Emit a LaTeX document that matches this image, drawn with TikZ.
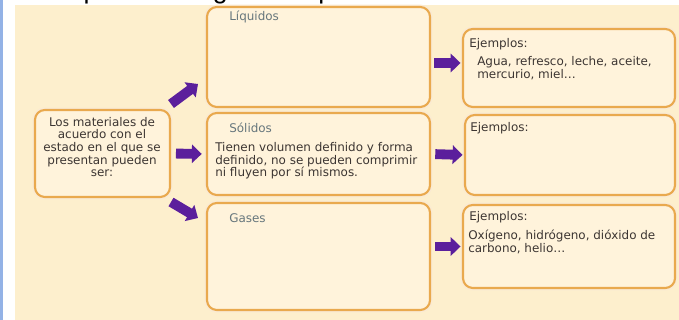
\documentclass[tikz,border=0pt]{standalone}
\usepackage{fontspec}
\setmainfont{DejaVu Sans}
\newfontfamily\encabezado{Liberation Sans}
\usetikzlibrary{arrows.meta, fit, calc}
\definecolor{fondocrema}{HTML}{FDEFCD}
\definecolor{rellenocaja}{HTML}{FFF3DB}
\definecolor{bordecaja}{HTML}{E9A94E}
\definecolor{morado}{HTML}{5B1F9C}
\definecolor{textocaja}{HTML}{3C3532}
\definecolor{grisazul}{HTML}{66767C}
\definecolor{barraazul}{HTML}{93B2E6}

\tikzset{
  caja/.style={draw=bordecaja, line width=1.5pt, fill=rellenocaja, rounded corners=7pt,
    inner sep=0pt, preaction={draw=bordecaja!25, line width=3.5pt}},
  flecha/.style={draw=morado, line width=7pt, -{Triangle[width=13pt, length=7pt]}},
  txt/.style={font=\fontsize{8.5}{9}\selectfont, text=textocaja, inner sep=0pt, align=left},
  titulo/.style={txt, text=grisazul},
}

\begin{document}
\begin{tikzpicture}[x=0.025cm, y=-0.025cm]
  \useasboundingbox (0,0) rectangle (679,320);
  % Fondo
  \fill[white] (0,0) rectangle (679,320);
  \fill[barraazul] (0,0) rectangle (3,320);
  \fill[fondocrema] (15,5) rectangle (679,320);
  % Texto cortado arriba
  \begin{scope}
    \clip (15,0) rectangle (679,5);
    \node[anchor=base west, inner sep=0pt, font=\encabezado\fontsize{19}{19}\selectfont]
      (instr) at (27,-1) {Completa el diagrama a partir de lo};
  \end{scope}

  % Cajas
  \node[caja, fit={(35,110) (170,197)}] (mat) {};
  \node[caja, fit={(207,7) (430,107)}] (liq) {};
  \node[caja, fit={(207,113) (430,195)}] (sol) {};
  \node[caja, fit={(207,203) (430,310)}] (gas) {};
  \node[caja, fit={(463,29) (675,107)}] (ej1) {};
  \node[caja, fit={(465,115) (675,195)}] (ej2) {};
  \node[caja, fit={(463,205) (675,288)}] (ej3) {};

  % Textos
  \node[txt, align=center] (matt) at (102,147)
    {Los materiales de\\acuerdo con el\\estado en el que se\\presentan pueden\\ser:};
  \node[titulo, anchor=west] (liqt) at (229,17) {Líquidos};
  \node[titulo, anchor=west] (solt) at (229,128) {Sólidos};
  \node[txt, anchor=north west] (solx) at (215,142)
    {Tienen volumen definido y forma\\definido, no se pueden comprimir\\ni fluyen por sí mismos.};
  \node[titulo, anchor=west] (gast) at (229,218) {Gases};
  \node[txt, anchor=west] (ej1t) at (469,44) {Ejemplos:};
  \node[txt, anchor=north west] (ej1x) at (477,56) {Agua, refresco, leche, aceite,\\mercurio, miel…};
  \node[txt, anchor=west] (ej2t) at (470,128) {Ejemplos:};
  \node[txt, anchor=west] (ej3t) at (469,217) {Ejemplos:};
  \node[txt, anchor=north west] (ej3x) at (468,230) {Oxígeno, hidrógeno, dióxido de\\carbono, helio…};

  % Flechas
  \coordinate (f1a) at (171,104);
  \coordinate (f1b) at (198,84);
  \coordinate (f3a) at (171,202);
  \coordinate (f3b) at (198,218);
  \coordinate (f4) at (434,63);
  \draw[flecha] (f1a) -- (f1b);
  \draw[flecha, shorten <=3.5pt, shorten >=3pt] (mat.east) -- (sol.west);
  \draw[flecha] (f3a) -- (f3b);
  \draw[flecha, shorten >=1pt] (f4) -- (f4 -| ej1.west);
  \draw[flecha, shorten <=3pt, shorten >=1pt] (sol.east) -- (ej2.west);
  \draw[flecha, shorten <=3pt, shorten >=1pt] (gas.east |- ej3.west) -- (ej3.west);
\end{tikzpicture}
\end{document}
